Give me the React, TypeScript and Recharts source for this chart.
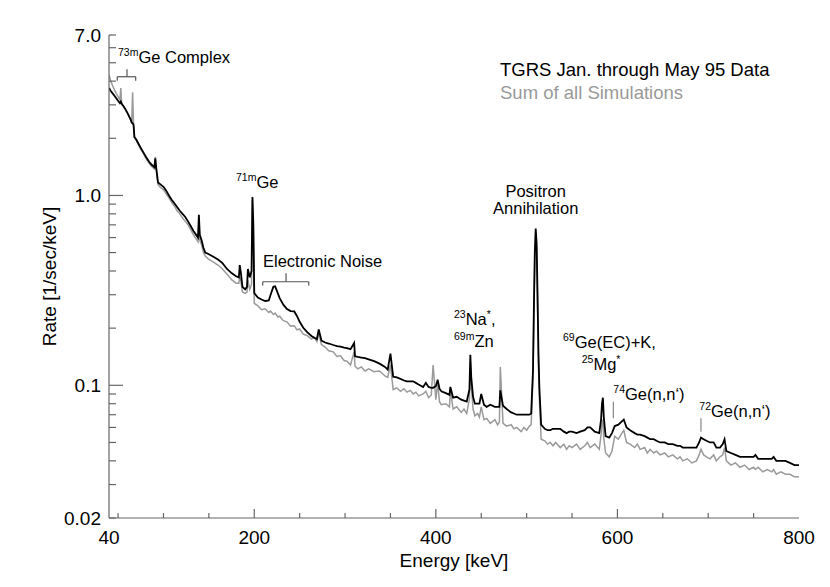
import React from "react";
import { LineChart, Line, XAxis, YAxis, ReferenceLine, ReferenceDot } from "recharts";

// spectrum bins, keV
const energyKeV = [
  40, 42, 44, 46, 48, 50, 52, 53, 54, 56,
  58, 60, 62, 64, 65, 66, 67, 68, 70, 72,
  75, 78, 81, 84, 87, 90, 91, 92, 94, 97,
  100, 103, 106, 109, 112, 115, 118, 121, 124, 127,
  130, 133, 136, 138, 139, 140, 142, 144, 146, 150,
  155, 160, 165, 170, 175, 180, 183, 184, 185, 187,
  190, 192, 193, 195, 197, 198, 199,
  200, 204, 208, 212, 216, 218, 221, 223, 226, 228,
  232, 236, 240, 244, 247, 250, 254, 258, 263, 266,
  269, 271, 274, 278, 282, 287, 291, 295, 299, 302,
  306, 310, 311, 314, 318, 322, 326, 332, 338, 344,
  347, 350, 353, 357, 361, 365, 368, 372, 375, 378,
  381, 386, 389, 392, 395, 397, 400, 402, 404, 406,
  411, 415, 416, 419, 423, 428, 431, 434, 437, 438,
  439, 441, 443, 446, 448, 450, 453, 456, 460, 465,
  468, 470, 471, 474, 478, 483, 486, 489, 494, 497,
  500, 503, 505, 507, 508, 509, 510, 511, 512, 513,
  514, 516, 520, 523, 526, 529, 532, 537, 541, 544,
  547, 550, 555, 559, 564, 567, 570, 575, 580, 582,
  583, 584, 585, 587, 591, 594, 597, 601, 604, 607,
  610, 614, 619, 622, 625, 630, 633, 636, 640, 643,
  647, 652, 656, 661, 666, 669, 672, 677, 682, 687,
  690, 692, 695, 698, 702, 706, 709, 713, 716, 718,
  720, 725, 730, 735, 740, 745, 750, 752, 755, 760,
  765, 770, 772, 775, 780, 785, 790, 795, 800,
];

// TGRS Jan.-May 95 data, 1/sec/keV
const tgrsRate = [
  3.68, 3.55, 3.45, 3.35, 3.25, 3.15, 3.06, 3.12, 3.04, 2.95,
  2.85, 2.74, 2.62, 2.5, 2.42, 2.4, 2.36, 2.03, 1.97, 1.89,
  1.78, 1.68, 1.59, 1.51, 1.45, 1.41, 1.57, 1.4, 1.17, 1.14,
  1.11, 1.06, 1.0, 0.95, 0.91, 0.87, 0.83, 0.8, 0.77, 0.73,
  0.69, 0.65, 0.62, 0.6, 0.79, 0.62, 0.58, 0.53, 0.5, 0.49,
  0.475, 0.46, 0.44, 0.41, 0.39, 0.375, 0.37, 0.43, 0.4, 0.33,
  0.32, 0.33, 0.41, 0.37, 0.4, 0.98, 0.7,
  0.306, 0.29, 0.283, 0.278, 0.28, 0.3, 0.33, 0.332, 0.305, 0.288,
  0.266, 0.252, 0.246, 0.245, 0.232, 0.216, 0.201, 0.191, 0.182, 0.178,
  0.175, 0.197, 0.172, 0.168, 0.166, 0.163, 0.161, 0.16, 0.158, 0.157,
  0.155, 0.167, 0.142, 0.141, 0.14, 0.139, 0.137, 0.134, 0.13, 0.125,
  0.121, 0.147, 0.111, 0.11, 0.108, 0.106, 0.105, 0.105, 0.105, 0.103,
  0.101, 0.098, 0.103, 0.098, 0.097, 0.097, 0.099, 0.107, 0.096, 0.093,
  0.091, 0.089, 0.098, 0.086, 0.087, 0.084, 0.083, 0.082, 0.095, 0.145,
  0.11, 0.087, 0.08, 0.08, 0.08, 0.09, 0.079, 0.077, 0.079, 0.077,
  0.077, 0.077, 0.094, 0.078, 0.075, 0.072, 0.071, 0.07, 0.07, 0.07,
  0.07, 0.07, 0.071, 0.12, 0.26, 0.5, 0.67, 0.56, 0.3, 0.15,
  0.098, 0.062, 0.059, 0.058, 0.058, 0.059, 0.059, 0.059, 0.057, 0.056,
  0.057, 0.057, 0.056, 0.057, 0.058, 0.06, 0.06, 0.057, 0.056, 0.066,
  0.08, 0.086, 0.068, 0.054, 0.053, 0.056, 0.061, 0.062, 0.064, 0.066,
  0.06, 0.058, 0.056, 0.055, 0.055, 0.054, 0.053, 0.052, 0.052, 0.051,
  0.05, 0.05, 0.049, 0.049, 0.048, 0.048, 0.047, 0.047, 0.047, 0.047,
  0.05, 0.053, 0.052, 0.051, 0.05, 0.05, 0.047, 0.047, 0.049, 0.052,
  0.045, 0.044, 0.043, 0.042, 0.042, 0.042, 0.042, 0.043, 0.041, 0.041,
  0.041, 0.041, 0.042, 0.04, 0.04, 0.04, 0.039, 0.038, 0.038,
];

// sum of all simulations, 1/sec/keV
const simRate = [
  4.31, 4.0, 3.78, 3.6, 3.45, 3.32, 3.2, 3.68, 3.02, 2.95,
  2.84, 2.73, 2.62, 2.5, 2.44, 3.5, 2.38, 2.02, 1.95, 1.87,
  1.75, 1.66, 1.56, 1.48, 1.42, 1.38, 1.6, 1.36, 1.14, 1.1,
  1.07, 1.02, 0.97, 0.92, 0.88, 0.83, 0.8, 0.76, 0.73, 0.7,
  0.66, 0.62, 0.59, 0.57, 0.72, 0.58, 0.55, 0.5, 0.48, 0.46,
  0.445, 0.43, 0.41, 0.385, 0.36, 0.345, 0.345, 0.37, 0.36, 0.31,
  0.305, 0.31, 0.358, 0.32, 0.34, 0.95, 0.62,
  0.27, 0.262, 0.25, 0.253, 0.242, 0.246, 0.236, 0.24, 0.229, 0.231,
  0.219, 0.216, 0.205, 0.206, 0.196, 0.198, 0.186, 0.183, 0.175, 0.179,
  0.17, 0.188, 0.164, 0.159, 0.152, 0.15, 0.142, 0.143, 0.135, 0.134,
  0.128, 0.15, 0.126, 0.122, 0.125, 0.119, 0.122, 0.118, 0.119, 0.112,
  0.11, 0.128, 0.095, 0.097, 0.093, 0.096, 0.092, 0.094, 0.09, 0.092,
  0.088, 0.09, 0.093, 0.086, 0.089, 0.128, 0.084, 0.103, 0.082, 0.079,
  0.08, 0.077, 0.094, 0.075, 0.077, 0.072, 0.075, 0.071, 0.085, 0.133,
  0.1, 0.075, 0.069, 0.071, 0.068, 0.077, 0.066, 0.067, 0.063, 0.066,
  0.062, 0.064, 0.125, 0.063, 0.061, 0.062, 0.059, 0.06, 0.057, 0.06,
  0.058, 0.061, 0.062, 0.11, 0.24, 0.47, 0.64, 0.52, 0.27, 0.13,
  0.085, 0.052, 0.051, 0.049, 0.05, 0.048, 0.05, 0.047, 0.049, 0.046,
  0.048, 0.047, 0.049, 0.046, 0.048, 0.05, 0.047, 0.049, 0.046, 0.055,
  0.063, 0.066, 0.052, 0.044, 0.042, 0.045, 0.054, 0.052, 0.055, 0.058,
  0.05, 0.049, 0.047, 0.049, 0.046, 0.047, 0.044, 0.046, 0.044, 0.045,
  0.043, 0.044, 0.042, 0.043, 0.041, 0.042, 0.04, 0.041, 0.039, 0.04,
  0.043, 0.046, 0.043, 0.042, 0.041, 0.043, 0.04, 0.042, 0.043, 0.047,
  0.04, 0.038, 0.039, 0.037, 0.038, 0.036, 0.037, 0.036, 0.037, 0.035,
  0.036, 0.035, 0.036, 0.034, 0.035, 0.034, 0.034, 0.033, 0.033,
];

const xTicks = [40, 50, 100, 150, 200, 250, 300, 350, 400, 450, 500, 550, 600, 650, 700, 750, 800];
const xLabelled = [40, 200, 400, 600, 800];
const xLong = [200, 400, 600];

const yTicks = [0.02, 0.03, 0.04, 0.05, 0.06, 0.07, 0.08, 0.09, 0.1, 0.2, 0.3, 0.4, 0.5, 0.6, 0.7, 0.8, 0.9, 1, 2, 3, 4, 5, 6, 7];
const yLabelled: Record<number, string> = { 0.02: "0.02", 0.1: "0.1", 1: "1.0", 7: "7.0" };
const yLong = [0.1, 1];

// text notes anchored at (energy, rate); parts flagged true are superscripts
type Note = { energy: number; rate: number; parts: [string, boolean][]; anchor?: "start" | "middle"; size?: number; fill?: string };
const notes: Note[] = [
  { energy: 49.9, rate: 4.98, parts: [["73m", true], ["Ge Complex", false]] },
  { energy: 179.9, rate: 1.099, parts: [["71m", true], ["Ge", false]] },
  { energy: 209.6, rate: 0.42, parts: [["Electronic Noise", false]] },
  { energy: 510, rate: 0.981, anchor: "middle", parts: [["Positron", false]] },
  { energy: 510, rate: 0.794, anchor: "middle", parts: [["Annihilation", false]] },
  { energy: 420, rate: 0.2078, parts: [["23", true], ["Na", false], ["*", true], [",", false]] },
  { energy: 420, rate: 0.159, parts: [["69m", true], ["Zn", false]] },
  { energy: 540.1, rate: 0.157, parts: [["69", true], ["Ge(EC)+K,", false]] },
  { energy: 560.7, rate: 0.1211, parts: [["25", true], ["Mg", false], ["*", true]] },
  { energy: 595.5, rate: 0.0837, parts: [["74", true], ["Ge(n,n\u2018)", false]] },
  { energy: 690.2, rate: 0.0683, parts: [["72", true], ["Ge(n,n\u2018)", false]] },
  { energy: 470.7, rate: 4.26, size: 18.5, parts: [["TGRS Jan. through May 95 Data", false]] },
  { energy: 470.7, rate: 3.21, size: 18.5, fill: "#999", parts: [["Sum of all Simulations", false]] },
];

const brackets = [
  { from: 49.1, to: 69.4, mid: 59.8, rate: 4.22, leg: 4.02, top: 4.62 },
  { from: 209.3, to: 260, mid: 235, rate: 0.351, leg: 0.335, top: 0.389 },
];
const markers = [
  { energy: 595.5, hi: 0.082, lo: 0.067 },
  { energy: 692, hi: 0.067, lo: 0.057 },
];

const rows = energyKeV.map((e, i) => ({ energy: e, tgrs: tgrsRate[i], sim: simRate[i] }));

const AXIS = "#666";
const FONT = "'Liberation Sans', Arial, Helvetica, sans-serif";
const TICK_FONT = 19;

const LeftTick = (p: any) => {
  const v = p.payload.value;
  const len = yLong.includes(v) ? 14 : 7;
  const lab = yLabelled[v];
  return (
    <g>
      <line x1={p.x} x2={p.x + len} y1={p.y} y2={p.y} stroke={AXIS} strokeWidth={1.2} />
      {lab && (
        <text x={p.x - 8} y={p.y + 7} textAnchor="end" fontSize={TICK_FONT} fill="#000" fontFamily={FONT}>
          {lab}
        </text>
      )}
    </g>
  );
};

const RightTick = (p: any) => {
  const len = yLong.includes(p.payload.value) ? 14 : 7;
  return <line x1={p.x} x2={p.x - len} y1={p.y} y2={p.y} stroke={AXIS} strokeWidth={1.2} />;
};

const xLen = (v: number) => (xLong.includes(v) ? 9 : v === 40 || v === 800 ? 0 : 5);

const BottomTick = (p: any) => {
  const v = p.payload.value;
  const len = xLen(v);
  return (
    <g>
      {len > 0 && <line x1={p.x} x2={p.x} y1={p.y} y2={p.y - len} stroke={AXIS} strokeWidth={1.2} />}
      {xLabelled.includes(v) && (
        <text x={p.x} y={p.y + 26} textAnchor="middle" fontSize={TICK_FONT} fill="#000" fontFamily={FONT}>
          {v}
        </text>
      )}
    </g>
  );
};

const TopTick = (p: any) => {
  const len = xLen(p.payload.value);
  return len > 0 ? <line x1={p.x} x2={p.x} y1={p.y} y2={p.y + len} stroke={AXIS} strokeWidth={1.2} /> : <g />;
};

const NoteText = ({ x, y, note }: { x: number; y: number; note: Note }) => {
  let prevSup = false;
  return (
    <text x={x} y={y} textAnchor={note.anchor ?? "start"} fontSize={note.size ?? 16.5} fill={note.fill ?? "#000"} fontFamily={FONT}>
      {note.parts.map(([t, sup], i) => {
        const dy = sup === prevSup ? 0 : sup ? -7 : 7;
        prevSup = sup;
        return (
          <tspan key={i} dy={dy} fontSize={sup ? 10.5 : undefined}>
            {t}
          </tspan>
        );
      })}
    </text>
  );
};

export default function App() {
  const seg = (x1: number, y1: number, x2: number, y2: number, key: string, stroke = "#555") => (
    <ReferenceLine
      key={key}
      xAxisId="b"
      yAxisId="l"
      segment={[{ x: x1, y: y1 }, { x: x2, y: y2 }]}
      stroke={stroke}
      strokeWidth={1.2}
      ifOverflow="visible"
    />
  );
  return (
    <div style={{ position: "absolute", left: 0, top: 0, fontFamily: FONT, background: "#fff" }}>
      <LineChart width={830} height={587} data={rows} margin={{ top: 35, right: 31, bottom: 0, left: 0 }}>
        <XAxis
          xAxisId="b"
          dataKey="energy"
          type="number"
          domain={[40, 800]}
          allowDataOverflow
          ticks={xTicks}
          interval={0}
          height={69}
          tickSize={0}
          tickMargin={0}
          tickLine={false}
          tick={BottomTick}
          axisLine={{ stroke: AXIS, strokeWidth: 1.2 }}
          label={{
            content: (props: any) => {
              const vb = props.viewBox;
              return (
                <text x={vb.x + vb.width / 2} y={vb.y + 48.5} textAnchor="middle" fontSize={TICK_FONT} fill="#000" fontFamily={FONT}>
                  Energy [keV]
                </text>
              );
            },
          }}
        />
        <XAxis
          xAxisId="t"
          orientation="top"
          dataKey="energy"
          type="number"
          domain={[40, 800]}
          allowDataOverflow
          ticks={xTicks}
          interval={0}
          height={0}
          tickSize={0}
          tickMargin={0}
          tickLine={false}
          tick={TopTick}
          axisLine={{ stroke: AXIS, strokeWidth: 1.2 }}
        />
        <YAxis
          yAxisId="l"
          scale="log"
          type="number"
          domain={[0.02, 7]}
          allowDataOverflow
          ticks={yTicks}
          interval={0}
          width={109}
          tickSize={0}
          tickMargin={0}
          tickLine={false}
          tick={LeftTick}
          axisLine={{ stroke: AXIS, strokeWidth: 1.2 }}
          label={{
            content: (props: any) => {
              const vb = props.viewBox;
              const cx = vb.x + 56;
              const cy = vb.y + vb.height / 2;
              return (
                <text x={cx} y={cy} transform={`rotate(-90, ${cx}, ${cy})`} textAnchor="middle" fontSize={TICK_FONT} fill="#000" fontFamily={FONT}>
                  Rate [1/sec/keV]
                </text>
              );
            },
          }}
        />
        <YAxis
          yAxisId="r"
          orientation="right"
          scale="log"
          type="number"
          domain={[0.02, 7]}
          allowDataOverflow
          ticks={yTicks}
          interval={0}
          width={0}
          tickSize={0}
          tickMargin={0}
          tickLine={false}
          tick={RightTick}
          axisLine={{ stroke: AXIS, strokeWidth: 1.2 }}
        />
        <Line
          xAxisId="b"
          yAxisId="l"
          dataKey="sim"
          type="linear"
          stroke="#9a9a9a"
          strokeWidth={1.5}
          dot={false}
          activeDot={false}
          isAnimationActive={false}
        />
        <Line
          xAxisId="b"
          yAxisId="l"
          dataKey="tgrs"
          type="linear"
          stroke="#000"
          strokeWidth={1.8}
          dot={false}
          activeDot={false}
          isAnimationActive={false}
        />
        {brackets.flatMap((b, i) => [
          seg(b.from, b.rate, b.to, b.rate, `bh${i}`),
          seg(b.from, b.rate, b.from, b.leg, `bl${i}`),
          seg(b.to, b.rate, b.to, b.leg, `br${i}`),
          seg(b.mid, b.rate, b.mid, b.top, `bm${i}`),
        ])}
        {markers.map((m, i) => seg(m.energy, m.hi, m.energy, m.lo, `mk${i}`, "#888"))}
        {notes.map((n, i) => (
          <ReferenceDot
            key={`n${i}`}
            xAxisId="b"
            yAxisId="l"
            x={n.energy}
            y={n.rate}
            r={0}
            ifOverflow="visible"
            shape={(p: any) => <NoteText x={p.cx} y={p.cy} note={n} />}
          />
        ))}
      </LineChart>
    </div>
  );
}
